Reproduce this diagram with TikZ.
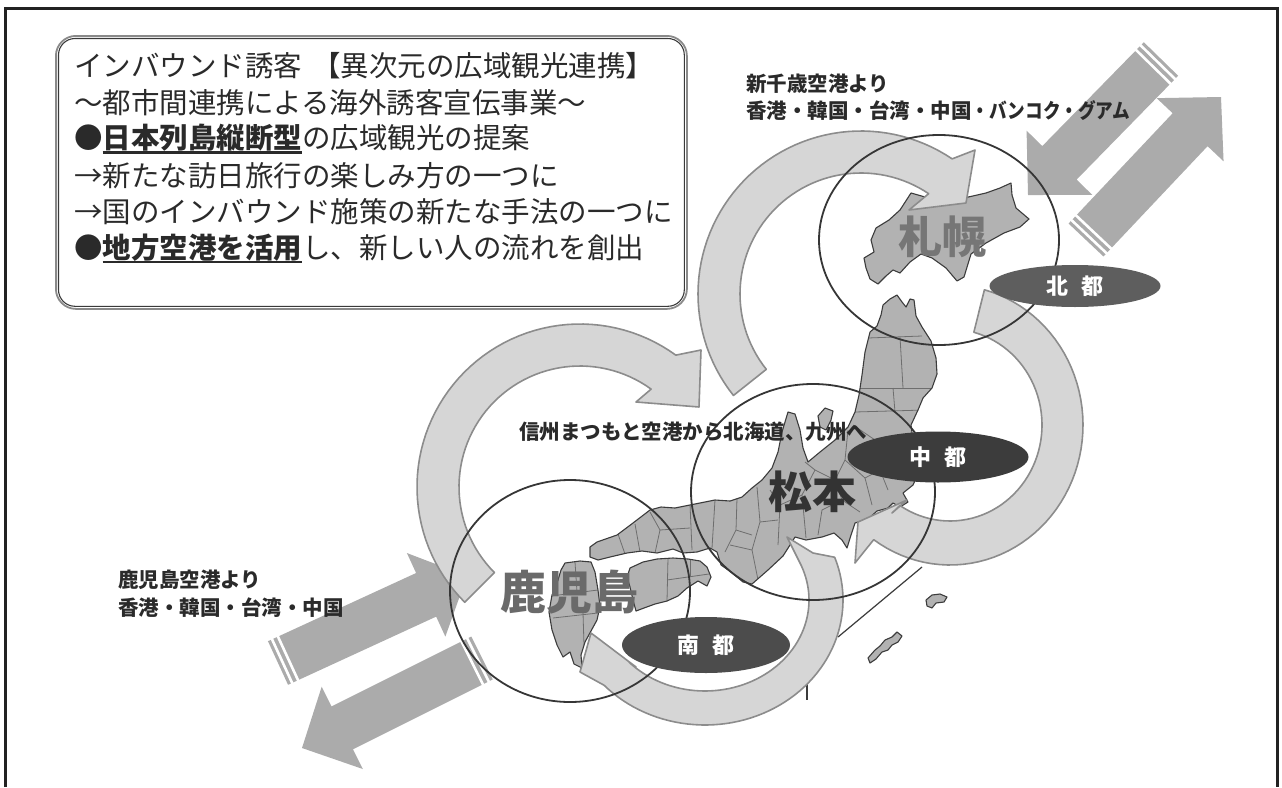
\documentclass[tikz,border=0pt]{standalone}
\usepackage{fontspec}
\setmainfont{Noto Sans CJK JP}
\newfontfamily\jp{Noto Sans CJK JP}
\usetikzlibrary{calc,shapes.geometric}
\definecolor{framec}{HTML}{222222}
\definecolor{boxouter}{HTML}{8A8A8A}
\definecolor{boxinner}{HTML}{3A3A3A}
\definecolor{sarr}{HTML}{ABABAB}
\definecolor{arcf}{HTML}{D6D6D6}
\definecolor{arcl}{HTML}{8C8C8C}
\definecolor{mapf}{HTML}{B2B2B2}
\definecolor{mapc}{HTML}{3C3C3C}
\definecolor{prefc}{HTML}{6E6E6E}
\definecolor{circc}{HTML}{363636}
\definecolor{hokuf}{HTML}{5E5E5E}
\definecolor{chuf}{HTML}{3C3C3C}
\definecolor{nanf}{HTML}{4C4C4C}
\definecolor{sapc}{HTML}{767676}
\definecolor{matc}{HTML}{333333}
\definecolor{kagc}{HTML}{6A6A6A}
\definecolor{textc}{HTML}{2A2A2A}
\newcommand\ulbox[1]{\setbox0\hbox{#1}\rlap{\rule[-0.16em]{\wd0}{0.075em}}\box0}
\newcommand\sarrow[3]{%
  \coordinate (#1t) at #2; \coordinate (#1h) at #3;
  \coordinate (#1b) at ($(#1h)!45pt!(#1t)$);
  \fill[sarr] ($(#1t)!24pt!90:(#1h)$) -- ($(#1b)!24pt!90:(#1h)$) -- ($(#1b)!46pt!90:(#1h)$) -- (#1h)
     -- ($(#1b)!46pt!-90:(#1h)$) -- ($(#1b)!24pt!-90:(#1h)$) -- ($(#1t)!24pt!-90:(#1h)$) -- cycle;
  \coordinate (#1s) at ($(#1t)!4.5pt!(#1h)$);
  \coordinate (#1r) at ($(#1t)!11pt!(#1h)$);
  \draw[white, line width=2.6pt] ($(#1s)!27pt!90:(#1h)$) -- ($(#1s)!27pt!-90:(#1h)$);
  \draw[white, line width=2.6pt] ($(#1r)!27pt!90:(#1h)$) -- ($(#1r)!27pt!-90:(#1h)$);
}
\def\hokkaido{(911,193) -- (925,197) -- (945,200) -- (964,198) -- (986,193) -- (1000,188) -- (1011,183) -- (1012,195) -- (1016,208) -- (1029,219) -- (1020,227) -- (1004,233) -- (986,243) -- (971,254) -- (964,277) -- (957,281) -- (946,268) -- (932,258) -- (921,254) -- (910,262) -- (900,273) -- (893,270) -- (886,276) -- (878,284) -- (870,279) -- (866,268) -- (864,258) -- (874,252) -- (871,240) -- (876,228) -- (889,220) -- (900,210) -- cycle}
\def\honshu{(883,305) -- (890,299) -- (897,295) -- (902,302) -- (906,307) -- (910,299) -- (914,300) -- (916,316) -- (922,327) -- (931,341) -- (936,358) -- (937,374) -- (932,388) -- (923,398) -- (918,410) -- (911,425) -- (913,440) -- (918,455) -- (920,470) -- (913,485) -- (903,493) -- (908,502) -- (900,507) -- (893,503) -- (888,508) -- (877,511) -- (868,519) -- (855,523) -- (851,535) -- (847,548) -- (842,540) -- (834,533) -- (822,537) -- (806,540) -- (795,537) -- (790,545) -- (783,556) -- (768,570) -- (752,584) -- (743,582) -- (731,572) -- (721,565) -- (717,552) -- (710,548) -- (697,552) -- (683,553) -- (673,549) -- (657,553) -- (642,551) -- (627,553) -- (610,557) -- (598,560) -- (590,557) -- (590,547) -- (597,542) -- (617,535) -- (633,523) -- (650,510) -- (661,507) -- (675,508) -- (700,503) -- (715,500) -- (730,501) -- (742,497) -- (752,488) -- (762,480) -- (772,468) -- (778,452) -- (782,432) -- (788,412) -- (795,414) -- (800,430) -- (803,448) -- (808,462) -- (820,452) -- (835,440) -- (848,427) -- (855,412) -- (859,395) -- (862,375) -- (865,352) -- (870,332) -- (877,326) -- (881,315) -- cycle}
\def\shikoku{(630,568) -- (643,562) -- (657,559) -- (673,558) -- (688,559) -- (700,561) -- (707,567) -- (711,577) -- (707,586) -- (698,581) -- (687,588) -- (678,596) -- (667,601) -- (655,604) -- (644,608) -- (636,611) -- (633,600) -- (630,587) -- (627,577) -- cycle}
\def\kyushu{(565,563) -- (580,561) -- (591,562) -- (595,572) -- (598,590) -- (600,606) -- (597,620) -- (591,631) -- (585,642) -- (581,655) -- (582,668) -- (574,664) -- (570,652) -- (563,657) -- (557,645) -- (552,630) -- (549,612) -- (552,595) -- (558,580) -- (561,570) -- cycle}
\tikzset{
  bodytxt/.style={anchor=west, inner sep=0pt, text=textc, font=\jp\fontsize{28.5}{30}\selectfont},
  lbl/.style={anchor=west, inner sep=0pt, text=textc, font=\jp\bfseries\fontsize{20.5}{24}\selectfont},
  bigname/.style={inner sep=0pt, font=\jp\bfseries\fontsize{44}{48}\selectfont},
  cityell/.style={ellipse, inner sep=0pt, text=white, font=\jp\bfseries\fontsize{22}{24}\selectfont},
  ringc/.style={ellipse, draw=circc, line width=1.8pt, inner sep=0pt},
  arcstyle/.style={fill=arcf, draw=arcl, line width=1.6pt, line join=round},
  coast/.style={draw=mapc, line width=1.1pt, line join=round},
  pref/.style={draw=prefc, line width=0.8pt},
}
\begin{document}
\begin{tikzpicture}[x=1pt,y=-1pt]
\useasboundingbox (0,0) rectangle (1282,787);
% frame
\draw[framec, line width=3pt] (5.5,787) -- (5.5,8) -- (1277.5,8) -- (1277.5,787);
% text box
\node[draw=boxouter, line width=1.8pt, rounded corners=20pt, minimum width=631pt, minimum height=273pt, inner sep=0pt, anchor=north west] (box) at (55,35) {};
\draw[boxinner, line width=1.1pt, rounded corners=16.5pt] ($(box.south west)+(3.5,-3.5)$) rectangle ($(box.north east)+(-3.5,3.5)$);
\node[bodytxt] (l1) at (74,66) {インバウンド誘客\hspace{0.35em}【異次元の広域観光連携】};
\node[bodytxt] (l2) at (74,102.5) {～都市間連携による海外誘客宣伝事業～};
\node[bodytxt] (l3) at (74,139) {●\textbf{\ulbox{日本列島縦断型}}の広域観光の提案};
\node[bodytxt] (l4) at (74,175.5) {→新たな訪日旅行の楽しみ方の一つに};
\node[bodytxt] (l5) at (74,212) {→国のインバウンド施策の新たな手法の一つに};
\node[bodytxt] (l6) at (74,248.5) {●\textbf{\ulbox{地方空港を活用}}し、新しい人の流れを創出};
% straight arrows
\sarrow{aA}{(1161,59)}{(1028,195)}
\sarrow{aB}{(1086,240)}{(1221,97)}
\sarrow{aC}{(278,663)}{(467,576)}
\sarrow{aD}{(482,658)}{(302,748)}
% map
\fill[mapf] \hokkaido;
\draw[coast] \hokkaido;
\fill[mapf] \honshu;
\begin{scope}
\clip \honshu;
\draw[pref] (868,338) -- (922,336);
\draw[pref] (900,337) -- (903,388);
\draw[pref] (860,388) -- (935,388);
\draw[pref] (893,388) -- (895,412);
\draw[pref] (855,412) -- (925,410);
\draw[pref] (853,425) -- (875,440) -- (905,448);
\draw[pref] (875,440) -- (880,470) -- (915,470);
\draw[pref] (880,470) -- (888,490);
\draw[pref] (848,430) -- (845,460) -- (865,478) -- (880,470);
\draw[pref] (865,478) -- (872,505);
\draw[pref] (845,460) -- (835,480) -- (842,500) -- (860,512);
\draw[pref] (842,500) -- (822,510) -- (818,535);
\draw[pref] (835,480) -- (815,470) -- (805,462);
\draw[pref] (815,470) -- (802,495) -- (806,538);
\draw[pref] (802,495) -- (780,505) -- (778,545);
\draw[pref] (780,505) -- (770,490);
\draw[pref] (778,520) -- (760,522) -- (752,550) -- (758,580);
\draw[pref] (760,522) -- (757,487);
\draw[pref] (752,550) -- (730,545);
\draw[pref] (737,498) -- (736,530) -- (725,552);
\draw[pref] (736,530) -- (752,535);
\draw[pref] (715,500) -- (712,548);
\draw[pref] (690,504) -- (692,550);
\draw[pref] (650,512) -- (660,530) -- (690,528);
\draw[pref] (660,530) -- (655,553);
\draw[pref] (618,534) -- (625,554);
\draw[pref] (635,524) -- (640,552);
\end{scope}
\draw[coast] \honshu;
\fill[mapf] \shikoku;
\begin{scope}
\clip \shikoku;
\draw[pref] (668,558) -- (667,601);
\draw[pref] (667,580) -- (709,574);
\draw[pref] (690,559) -- (690,577);
\end{scope}
\draw[coast] \shikoku;
\fill[mapf] \kyushu;
\begin{scope}
\clip \kyushu;
\draw[pref] (575,562) -- (577,592);
\draw[pref] (551,596) -- (598,590);
\draw[pref] (553,618) -- (598,613);
\draw[pref] (583,613) -- (584,645);
\end{scope}
\draw[coast] \kyushu;
\filldraw[mapf, coast] (818,416) -- (825,408) -- (833,411) -- (831,420) -- (826,430) -- (820,427) -- cycle;
\filldraw[mapf, coast] (926,600) -- (932,595) -- (940,594) -- (947,597) -- (944,602) -- (936,603) -- (932,608) -- (927,606) -- cycle;
\filldraw[mapf, coast] (868,658) -- (875,650) -- (880,646) -- (885,640) -- (892,637) -- (897,632) -- (902,636) -- (898,642) -- (892,645) -- (888,650) -- (882,652) -- (876,659) -- (870,663) -- cycle;
\draw[mapc, line width=1.2pt] (838,637) -- (922,567);
\draw[mapc, line width=1.2pt] (807,683) -- (807,700);
% circular arrows
\filldraw[arcstyle] plot[domain=135:306, samples=60] ({580+163*cos(\x)},{487+163*sin(\x)}) -- (701,350) -- (699,407) -- (636,402) -- plot[domain=306:135, samples=60] ({580+121*cos(\x)},{487+121*sin(\x)}) -- cycle;
\filldraw[arcstyle] plot[domain=141.5:304, samples=60] ({861+163*cos(\x)},{294+163*sin(\x)}) -- (975,150) -- (966,203) -- (909,210) -- plot[domain=304:141.5, samples=60] ({861+121*cos(\x)},{294+121*sin(\x)}) -- cycle;
\filldraw[arcstyle] plot[domain=285:485, samples=60] ({950+133*cos(\x)},{425+140*sin(\x)}) -- (867,548) -- (855,563) -- (858,522) -- (907,500) -- (892,513) -- plot[domain=483:285, samples=60] ({950+92*cos(\x)},{425+96*sin(\x)}) -- cycle;
\filldraw[arcstyle] (787,537) -- (813,553) -- plot[domain=340:497, samples=60] ({705+138*cos(\x)},{600+125*sin(\x)}) -- (580,672) -- (591,633) -- (636,667) -- plot[domain=497:335, samples=60] ({705+104*cos(\x)},{600+91*sin(\x)}) -- cycle;
% region circles
\node[ringc, minimum width=240pt, minimum height=210pt] (sapring) at (939,240) {};
\node[ringc, minimum width=244pt, minimum height=216pt] (matring) at (813,492) {};
\node[ringc, minimum width=240pt, minimum height=222pt] (kagring) at (570,591) {};
% city names
\node[bigname, text=sapc] (sapporo) at (942,237) {札幌};
\node[bigname, text=matc] (matsumoto) at (812,492) {松本};
\node[bigname, text=kagc, font=\jp\bfseries\fontsize{46}{50}\selectfont] (kagoshima) at (569,592) {鹿児島};
% capital ellipses
\node[cityell, fill=hokuf, minimum width=171pt, minimum height=42pt] (hokuto) at (1075,286) {北\hspace{0.6em}都};
\node[cityell, fill=chuf, minimum width=181pt, minimum height=51pt] (chuto) at (938,457) {中\hspace{0.6em}都};
\node[cityell, fill=nanf, minimum width=168pt, minimum height=56pt] (nanto) at (706,645) {南\hspace{0.6em}都};
% labels
\node[lbl] (chitose1) at (746,84) {新千歳空港より};
\node[lbl] (chitose2) at (746,111) {香港・韓国・台湾・中国\scalebox{0.86}[1]{・バンコク・グアム}};
\node[lbl] (kagair1) at (118,580) {鹿児島空港より};
\node[lbl] (kagair2) at (118,608) {香港・韓国・台湾・中国};
\node[lbl] (shinshu) at (519,432) {信州まつもと空港から北海道、九州へ};
\end{tikzpicture}
\end{document}
